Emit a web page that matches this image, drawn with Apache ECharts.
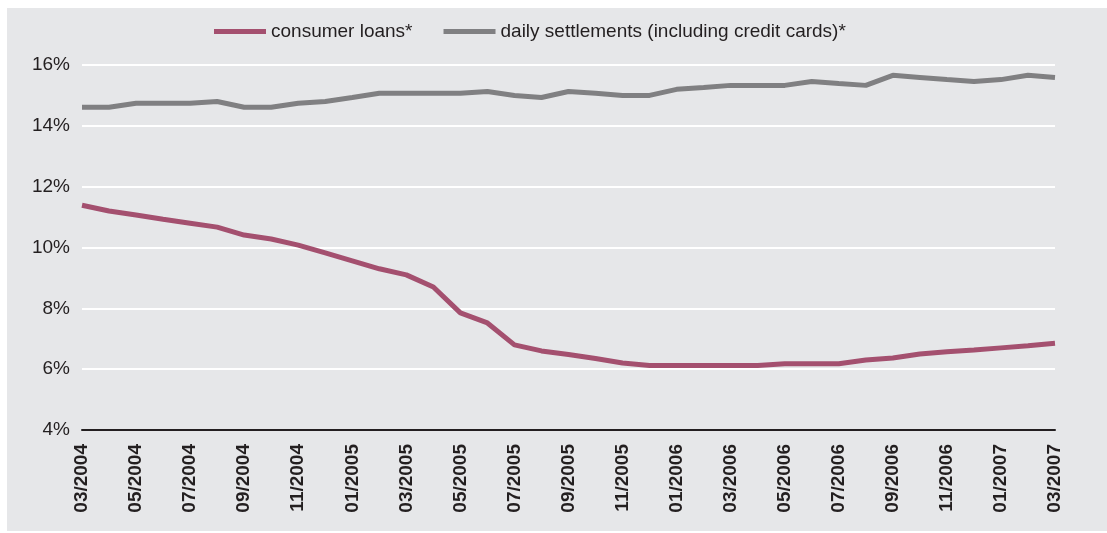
<!DOCTYPE html>
<html>
<head>
<meta charset="utf-8">
<script src="https://cdn.jsdelivr.net/npm/echarts@6/dist/echarts.min.js"></script>
<style>
  html, body { margin: 0; padding: 0; background: #ffffff; }
  #chart { width: 1107px; height: 533px; }
</style>
</head>
<body>
<div id="chart"></div>
<script>
// Monthly observations, 03/2004 – 03/2007
const months = [
  '03/2004','04/2004','05/2004','06/2004','07/2004','08/2004','09/2004','10/2004','11/2004','12/2004',
  '01/2005','02/2005','03/2005','04/2005','05/2005','06/2005','07/2005','08/2005','09/2005','10/2005',
  '11/2005','12/2005','01/2006','02/2006','03/2006','04/2006','05/2006','06/2006','07/2006','08/2006',
  '09/2006','10/2006','11/2006','12/2006','01/2007','02/2007','03/2007'
];

// Interest rates, in percent
const consumerLoans = [
  11.39, 11.20, 11.07, 10.93, 10.80, 10.67, 10.41, 10.28, 10.08, 9.82,
  9.56, 9.30, 9.10, 8.70, 7.85, 7.52, 6.80, 6.60, 6.48, 6.35,
  6.20, 6.12, 6.12, 6.12, 6.12, 6.12, 6.18, 6.18, 6.18, 6.30,
  6.37, 6.50, 6.57, 6.63, 6.70, 6.77, 6.85
];
const dailySettlements = [
  14.61, 14.61, 14.74, 14.74, 14.74, 14.80, 14.61, 14.61, 14.74, 14.80,
  14.93, 15.07, 15.07, 15.07, 15.07, 15.13, 15.00, 14.93, 15.13, 15.07,
  15.00, 15.00, 15.20, 15.26, 15.33, 15.33, 15.33, 15.46, 15.39, 15.33,
  15.66, 15.59, 15.52, 15.46, 15.52, 15.66, 15.59
];

const seriesNames = ['consumer loans*', 'daily settlements (including credit cards)*'];
const seriesColors = ['#a4506f', '#808082'];

const yTicks = { min: 4, max: 16, interval: 2 };

const textColor = '#231f20';
const fontFamily = '"Liberation Sans", Arial, Helvetica, sans-serif';

const chart = echarts.init(document.getElementById('chart'), null, { renderer: 'canvas' });

chart.setOption({
  backgroundColor: '#ffffff',
  animation: false,
  graphic: [{
    type: 'rect',
    z: -10,
    shape: { x: 7, y: 8, width: 1100, height: 523 },
    style: { fill: '#e6e7e9' }
  }],
  legend: {
    top: 17,
    left: 209,
    itemWidth: 52,
    itemHeight: 5,
    itemGap: 31,
    icon: 'rect',
    textStyle: { color: textColor, fontSize: 19, fontFamily: fontFamily },
    data: seriesNames
  },
  grid: { left: 82, right: 52, top: 65, bottom: 103, containLabel: false },
  xAxis: {
    type: 'category',
    data: months,
    boundaryGap: false,
    axisLine: { lineStyle: { color: textColor, width: 2 } },
    axisTick: { show: false },
    axisLabel: {
      interval: 1,
      rotate: 90,
      margin: 14,
      color: textColor,
      fontWeight: 'bold',
      fontSize: 19,
      fontFamily: fontFamily
    },
    splitLine: { show: false }
  },
  yAxis: {
    type: 'value',
    min: yTicks.min,
    max: yTicks.max,
    interval: yTicks.interval,
    axisLine: { show: false },
    axisTick: { show: false },
    axisLabel: {
      formatter: '{value}%',
      margin: 12,
      color: textColor,
      fontSize: 19,
      fontFamily: fontFamily
    },
    splitLine: { lineStyle: { color: '#ffffff', width: 2 } }
  },
  series: [
    {
      name: seriesNames[0],
      type: 'line',
      data: consumerLoans,
      showSymbol: false,
      color: seriesColors[0],
      lineStyle: { width: 5, color: seriesColors[0] },
      z: 3
    },
    {
      name: seriesNames[1],
      type: 'line',
      data: dailySettlements,
      showSymbol: false,
      color: seriesColors[1],
      lineStyle: { width: 5, color: seriesColors[1] },
      z: 3
    }
  ]
});
</script>
</body>
</html>
